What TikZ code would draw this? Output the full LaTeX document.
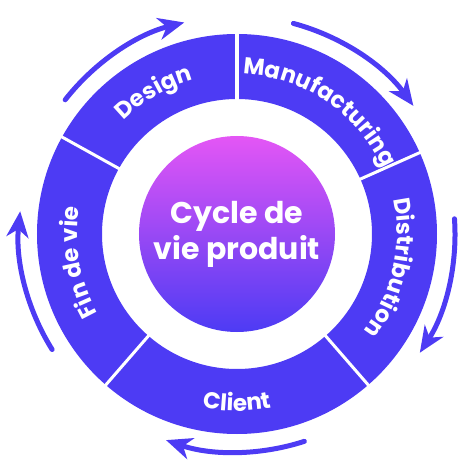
\documentclass[tikz,border=0pt]{standalone}
\usepackage{fontspec}
\setmainfont{Poppins}
\usetikzlibrary{arrows.meta,decorations.text}
\definecolor{ringblue}{RGB}{77,59,244}
\definecolor{coretop}{RGB}{228,86,245}
\definecolor{coremid}{RGB}{150,72,245}
\newcommand{\ringfont}{\bfseries\fontsize{23}{28}\selectfont}
\begin{document}
\begin{tikzpicture}[x=1pt,y=1pt,
  cyclearrow/.style={ringblue,line width=5pt,line cap=round,
    -{Stealth[length=26pt,width=22pt,inset=8pt]}},
  ringtext/.style={decorate,decoration={text along path,text align=center,
    text color=white,text={|\ringfont|#1}}}]
\useasboundingbox (-237,-240) rectangle (237,234);
% ring
\fill[ringblue,even odd rule] (0,0) circle[radius=200] (0,0) circle[radius=135];
\foreach \a in {90,24,-49,-131,151}
  \draw[white,line width=3pt] (\a:133) -- (\a:203);
% centre
\node[circle,minimum size=196pt,top color=coretop,middle color=coremid,
  bottom color=ringblue] (core) at (0,0) {};
\node[white,align=center,font=\bfseries\fontsize{30}{36}\selectfont]
  (title) at (core.center) {Cycle de\\vie produit};
% labels
\path[ringtext=Design] (151:160) arc[start angle=151,end angle=90,radius=160];
\path[ringtext=Manufacturing] (88:160) arc[start angle=88,end angle=24,radius=160];
\path[ringtext=Distribution] (24:160) arc[start angle=24,end angle=-49,radius=160];
\path[ringtext=Client] (-131:177) arc[start angle=-131,end angle=-49,radius=177];
\path[ringtext=Fin de vie] (229:160) arc[start angle=229,end angle=151,radius=160];
% arrows
\draw[cyclearrow] (142:218) arc[start angle=142,end angle=104,radius=218];
\draw[cyclearrow] (75:218) arc[start angle=75,end angle=36,radius=218];
\draw[cyclearrow] (4:218) arc[start angle=4,end angle=-33,radius=218];
\draw[cyclearrow] (-72:218) arc[start angle=-72,end angle=-109,radius=218];
\draw[cyclearrow] (212:218) arc[start angle=212,end angle=174,radius=218];
\end{tikzpicture}
\end{document}
